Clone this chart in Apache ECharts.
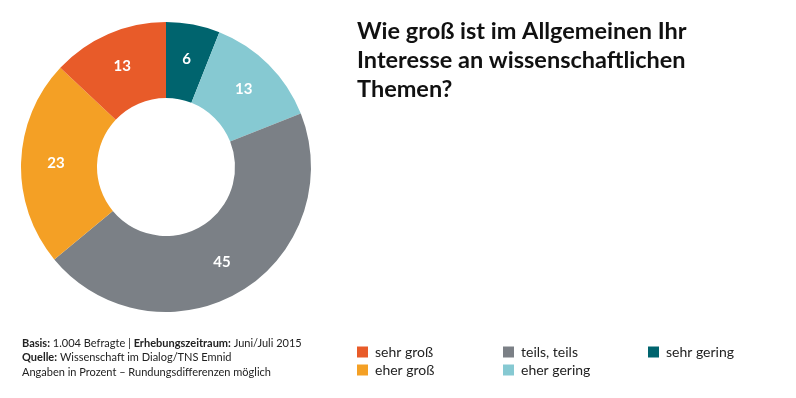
<!DOCTYPE html>
<html><head><meta charset="utf-8">
<script src="https://cdn.jsdelivr.net/npm/echarts@6/dist/echarts.min.js"></script>
<style>html,body{margin:0;padding:0;background:#fff}#c{width:796px;height:398px}</style>
</head><body><div id="c"></div>
<script>
const categories = ['sehr gering', 'eher gering', 'teils, teils', 'eher groß', 'sehr groß'];
const values = [6, 13, 45, 23, 13];
const colors = ['#00646E', '#86C9D2', '#7B8086', '#F4A025', '#E85B29'];
const legendCols = [['sehr groß', 'eher groß'], ['teils, teils', 'eher gering'], ['sehr gering']];
const FONT = 'Lato';

const chart = echarts.init(document.getElementById('c'));
const legendX = [352, 498, 643];
chart.setOption({
  animation: false,
  textStyle: { fontFamily: FONT },
  title: {
    text: 'Wie groß ist im Allgemeinen Ihr\nInteresse an wissenschaftlichen\nThemen?',
    left: 352, top: 12,
    textStyle: { fontFamily: FONT, fontSize: 23.5, fontWeight: 'bold', color: '#111', lineHeight: 29 }
  },
  legend: legendCols.map((d, i) => ({
    data: d, orient: 'vertical', left: legendX[i], top: 340,
    itemWidth: 11, itemHeight: 11, itemGap: 4, icon: 'rect',
    textStyle: { fontFamily: FONT, fontSize: 14, color: '#222', padding: [0, 0, 0, 2] }
  })),
  graphic: [{
    type: 'text', left: 22, top: 336,
    style: {
      text: '{b|Basis:} 1.004 Befragte | {b|Erhebungszeitraum:} Juni/Juli 2015\n{b|Quelle:} Wissenschaft im Dialog/TNS Emnid\nAngaben in Prozent – Rundungsdifferenzen möglich',
      font: '11px ' + FONT, fill: '#222', lineHeight: 14.5,
      rich: { b: { fontWeight: 'bold', fontSize: 11, fontFamily: FONT, fill: '#222', lineHeight: 14.5 } }
    }
  }],
  series: [{
    type: 'pie',
    center: [166, 167],
    radius: [69, 145],
    startAngle: 90,
    clockwise: true,
    data: categories.map((n, i) => ({ name: n, value: values[i], itemStyle: { color: colors[i] } })),
    label: { show: true, position: 'inside', formatter: '{c}', color: '#fff', fontSize: 15, fontWeight: 'bold', fontFamily: FONT },
    labelLine: { show: false },
    emphasis: { disabled: true }
  }]
});
</script></body></html>
